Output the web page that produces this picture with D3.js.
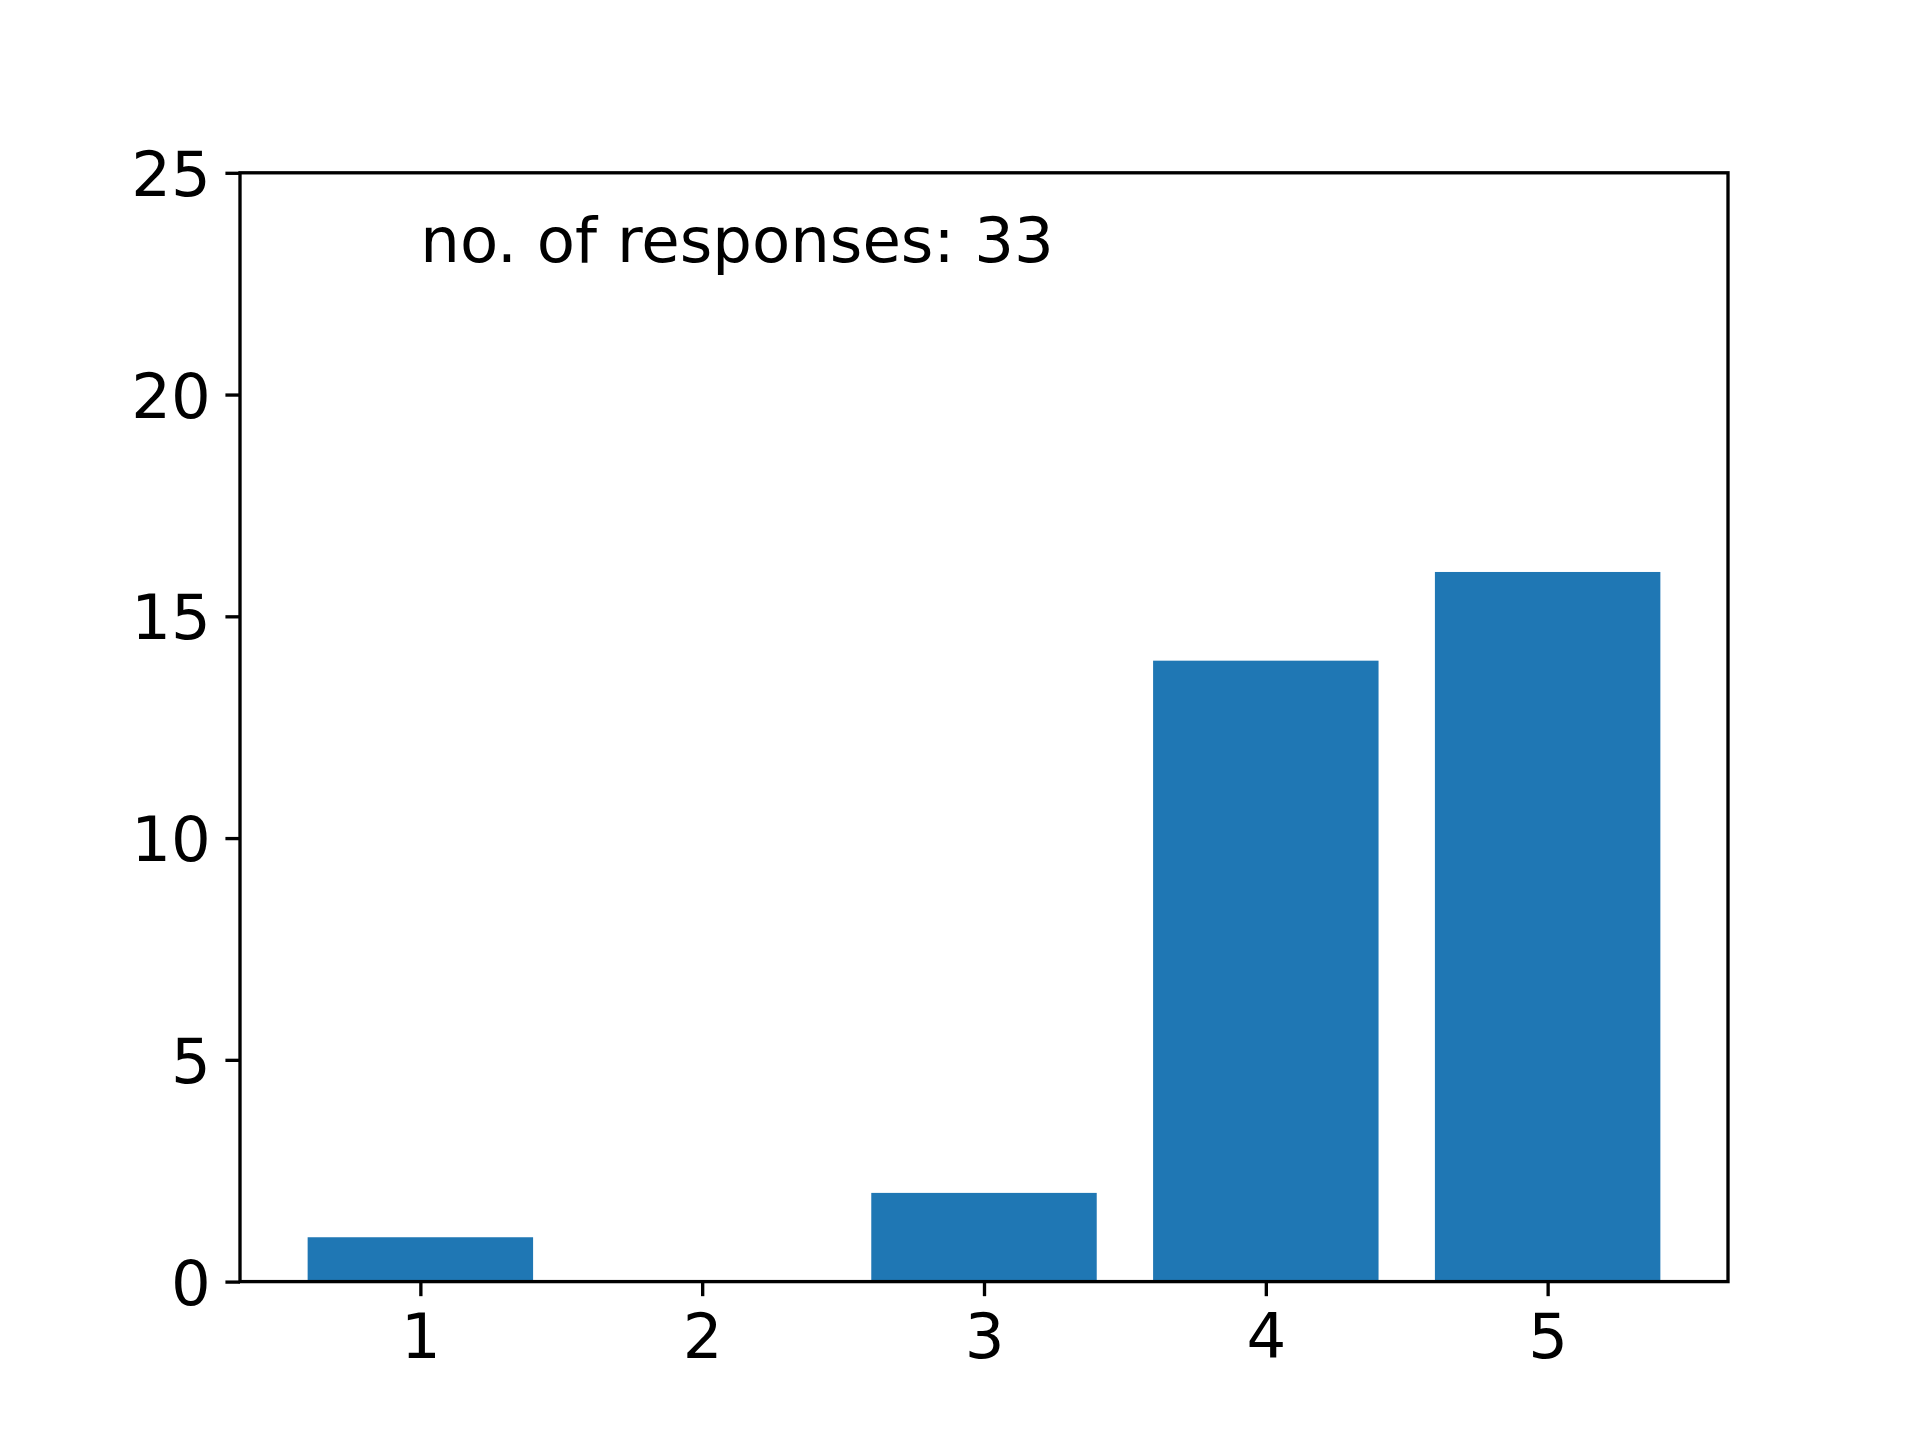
<!DOCTYPE html>
<html>
<head>
<meta charset="utf-8">
<script src="https://cdn.jsdelivr.net/npm/d3@7"></script>
<style>
  html, body { margin: 0; padding: 0; background: #fff; }
  svg { display: block; }
</style>
</head>
<body>
<svg id="chart" width="1920" height="1440"></svg>
<script>
const categories = [1, 2, 3, 4, 5];
const counts = [1, 0, 2, 14, 16];
const yTicks = [0, 5, 10, 15, 20, 25];
const annotation = "no. of responses: 33";

(function () {
const W = 1920, H = 1440;
const mLeft = 240, mRight = 1728, mTop = 172.8, mBottom = 1281.6;
const lw = 0.8 * 300 / 72;
const tickLen = 3.5 * 300 / 72;
const fs = 62.5;
const barWidth = 0.8;

const svg = d3.select("#chart");
svg.append("rect").attr("width", W).attr("height", H).attr("fill", "#fff");

const xMin = d3.min(categories) - barWidth / 2, xMax = d3.max(categories) + barWidth / 2;
const pad = (xMax - xMin) * 0.05;
const x = d3.scaleLinear().domain([xMin - pad, xMax + pad]).range([mLeft, mRight]);
const y = d3.scaleLinear().domain([0, 25]).range([mBottom, mTop]);

const data = categories.map((c, i) => ({ c, v: counts[i] }));

svg.append("g").selectAll("rect").data(data).join("rect")
  .attr("x", d => x(d.c - barWidth / 2))
  .attr("width", d => x(d.c + barWidth / 2) - x(d.c - barWidth / 2))
  .attr("y", d => y(d.v))
  .attr("height", d => y(0) - y(d.v))
  .attr("fill", "#1f77b4");

const xAxis = svg.append("g").attr("transform", `translate(0,${mBottom})`)
  .call(d3.axisBottom(x).tickValues(categories).tickFormat(d3.format("d"))
    .tickSize(tickLen).tickPadding(tickLen));
const yAxis = svg.append("g").attr("transform", `translate(${mLeft},0)`)
  .call(d3.axisLeft(y).tickValues(yTicks).tickFormat(d3.format("d"))
    .tickSize(tickLen).tickPadding(tickLen));

[xAxis, yAxis].forEach(g => {
  g.select(".domain").remove();
  g.selectAll(".tick line").attr("stroke", "#000").attr("stroke-width", lw);
  g.selectAll(".tick text").attr("fill", "#000")
    .style("font-family", "'DejaVu Sans'").style("font-size", fs + "px");
});
xAxis.selectAll(".tick text").attr("dy", "0.76em");
yAxis.selectAll(".tick text").attr("dy", "0.36em");

svg.append("rect")
  .attr("x", mLeft).attr("y", mTop)
  .attr("width", mRight - mLeft).attr("height", mBottom - mTop)
  .attr("fill", "none").attr("stroke", "#000").attr("stroke-width", lw)
  .attr("stroke-linecap", "square");

svg.append("text")
  .attr("x", x(1)).attr("y", y(23))
  .attr("fill", "#000")
  .style("font-family", "'DejaVu Sans'").style("font-size", fs + "px")
  .text(annotation);
})();
</script>
</body>
</html>
